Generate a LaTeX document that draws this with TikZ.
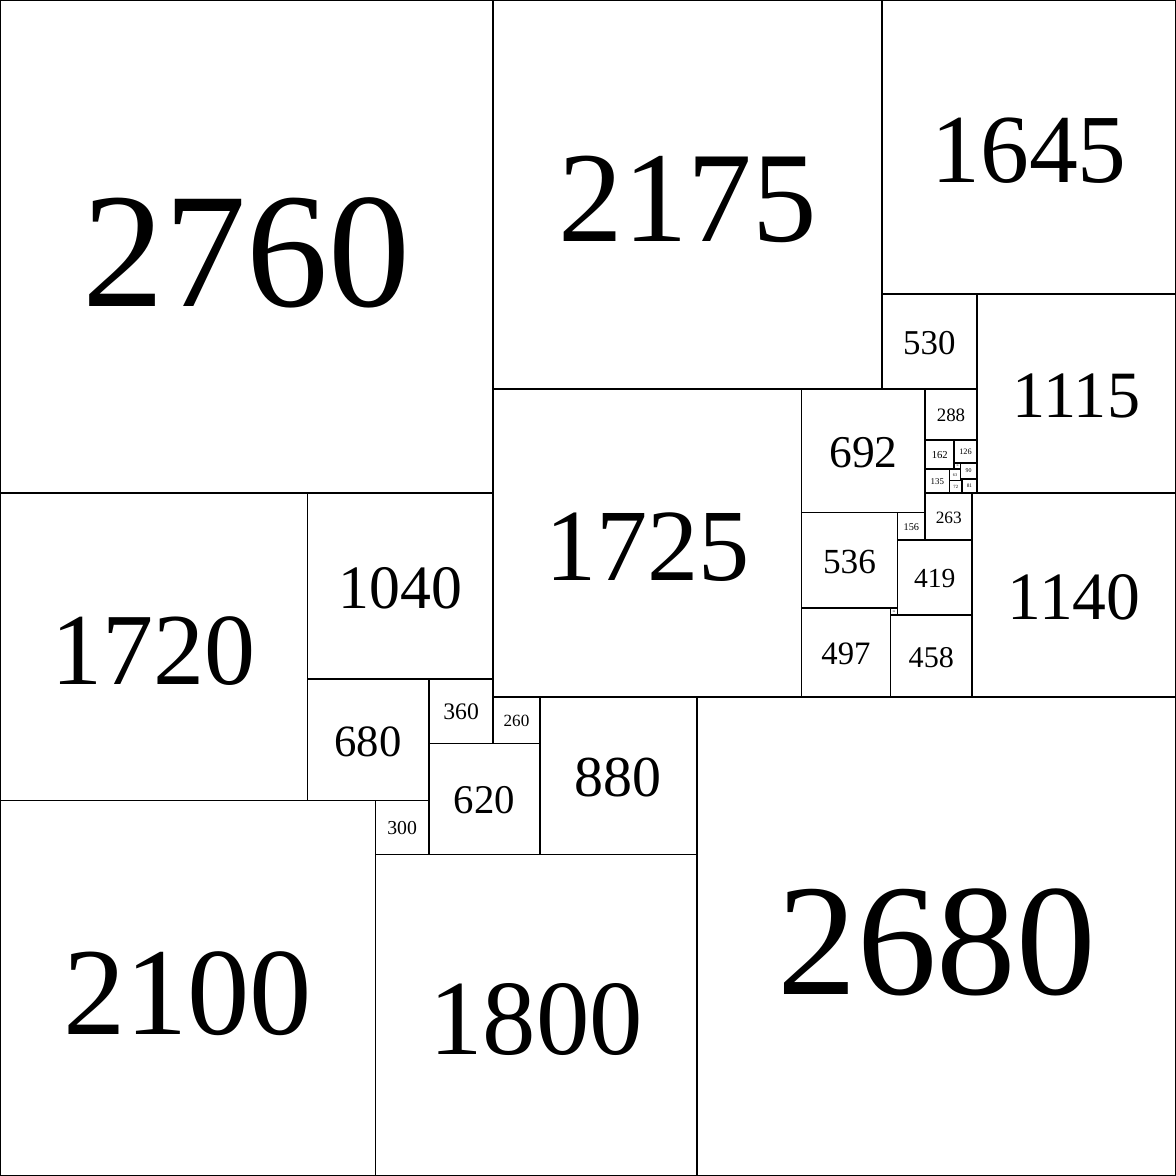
\documentclass[tikz,border=0pt]{standalone}
\usepackage{fontspec}
\setmainfont{Liberation Serif}
\usetikzlibrary{calc}
\tikzset{
  sqline/.style={draw=black, line width=0.9pt},
  sqlabel/.style={inner sep=0pt, outer sep=0pt, text=black}
}
\newcommand\sqbox[3]{%
  \draw[sqline] (#1,#2) rectangle ++(#3,#3);
  \pgfmathsetmacro\sqfs{max(1,(#3>=1000 ? 0.0332*#3 : 0.0368*#3))}%
  \node[sqlabel] (n#3) at ($(#1,#2)+(#3/2,#3/2)+(0,0.013*#3)$) {\fontsize{\sqfs pt}{\sqfs pt}\selectfont #3};
}
\begin{document}
\begin{tikzpicture}[x=0.1pt,y=-0.1pt]
\useasboundingbox (0,0) rectangle (6580,6580);
\fill[white] (0,0) rectangle (6580,6580);
\sqbox{0}{0}{2760}
\sqbox{2760}{0}{2175}
\sqbox{4935}{0}{1645}
\sqbox{4935}{1645}{530}
\sqbox{5465}{1645}{1115}
\sqbox{2760}{2175}{1725}
\sqbox{4485}{2175}{692}
\sqbox{5177}{2175}{288}
\sqbox{5177}{2463}{162}
\sqbox{5339}{2463}{126}
\sqbox{5339}{2589}{36}
\sqbox{5375}{2589}{90}
\sqbox{5177}{2625}{135}
\sqbox{5312}{2625}{63}
\sqbox{5375}{2679}{9}
\sqbox{5384}{2679}{81}
\sqbox{5312}{2688}{72}
\sqbox{5177}{2760}{263}
\sqbox{5021}{2867}{156}
\sqbox{4485}{2867}{536}
\sqbox{5021}{3023}{419}
\sqbox{4485}{3403}{497}
\sqbox{4982}{3403}{39}
\sqbox{4982}{3442}{458}
\sqbox{5440}{2760}{1140}
\sqbox{0}{2760}{1720}
\sqbox{1720}{2760}{1040}
\sqbox{1720}{3800}{680}
\sqbox{2400}{3800}{360}
\sqbox{2760}{3900}{260}
\sqbox{3020}{3900}{880}
\sqbox{2400}{4160}{620}
\sqbox{2100}{4480}{300}
\sqbox{0}{4480}{2100}
\sqbox{2100}{4780}{1800}
\sqbox{3900}{3900}{2680}
\end{tikzpicture}
\end{document}
